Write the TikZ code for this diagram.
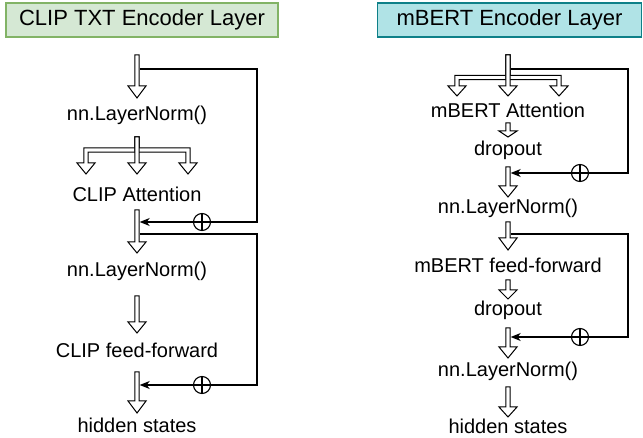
\documentclass[tikz,border=0pt]{standalone}
\usepackage{fontspec}
\setmainfont{Liberation Sans}
\usetikzlibrary{arrows.meta}
\definecolor{gfill}{HTML}{D5E8D4}
\definecolor{gline}{HTML}{82B366}
\definecolor{tfill}{HTML}{B0E3E6}
\definecolor{tline}{HTML}{0E8088}
\tikzset{
 fa/.style={draw=black, fill=white, line width=1pt, line join=miter},
 lbl/.style={font=\fontsize{20}{24}\selectfont, inner sep=0pt, anchor=center},
 ttl/.style={font=\fontsize{22}{26}\selectfont, line width=1.5pt, inner sep=0pt, minimum height=34pt},
 fb/.style={draw=black, line width=1.1pt},
 fbarrow/.style={fb, -{Stealth[length=10pt,width=8pt,inset=3pt]}},
 oplus/.style={circle, draw, line width=1.1pt, minimum size=17pt, inner sep=0pt,
   path picture={\draw[line width=1.1pt] (path picture bounding box.north) -- (path picture bounding box.south)
     (path picture bounding box.west) -- (path picture bounding box.east);}},
}
% straight hollow arrow: x, top, head top, tip
\newcommand\fArrow[4]{\draw[fa] ({#1-2.2},#2) -- ({#1-2.2},#3) -- ({#1-9},#3) -- (#1,#4) -- ({#1+9},#3) -- ({#1+2.2},#3) -- ({#1+2.2},#2) -- cycle;}
% branched hollow arrow: xc, top, band y, xb, head top, tip, side sign
\newcommand\bArrow[7]{\draw[fa] ({#1+#7*2.2},#2) -- ({#1+#7*2.2},{#3-2.2}) -- ({#4+#7*2.2},{#3-2.2}) -- ({#4+#7*2.2},#5) -- ({#4+#7*9},#5) -- (#4,#6) -- ({#4-#7*9},#5) -- ({#4-#7*2.2},#5) -- ({#4-#7*2.2},{#3+2.2}) -- ({#1-#7*2.2},{#3+2.2}) -- ({#1-#7*2.2},#2) -- cycle;}
\begin{document}
\begin{tikzpicture}[x=1pt,y=-1pt]
\useasboundingbox (0,0) rectangle (643,438);
% titles
\node[ttl, fill=gfill, draw=gline, minimum width=272pt] (t1) at (142,20) {CLIP TXT Encoder Layer};
\node[ttl, fill=tfill, draw=tline, minimum width=264pt] (t2) at (509.5,20) {mBERT Encoder Layer};

% ---------- left column ----------
\fArrow{137}{55}{86}{98}
\bArrow{137}{137}{150}{86}{163}{174}{-1}
\bArrow{137}{137}{150}{188}{163}{174}{1}
\fArrow{137}{137}{163}{174}
\fArrow{137}{210}{242}{253}
\fArrow{137}{296}{322}{333}
\fArrow{137}{372}{401}{413}

\node[lbl] (l1) at (137,115) {nn.LayerNorm()};
\node[lbl] (l2) at (137,194) {CLIP Attention};
\node[lbl] (l3) at (137,271) {nn.LayerNorm()};
\node[lbl] (l4) at (137,350) {CLIP feed-forward};
\node[lbl] (l5) at (137,425.5) {hidden states};

\coordinate (la) at (139.7,69);
\coordinate (lb) at (257,69);
\coordinate (lc) at (257,222);
\node[oplus] (p1) at (202,222) {};
\coordinate (ld) at (139.7,222);
\draw[fb] (la) -- (lb) -- (lc) -- (p1);
\draw[fbarrow] (p1) -- (ld);

\coordinate (le) at (139.7,234);
\coordinate (lf) at (257,234);
\coordinate (lg) at (257,385);
\node[oplus] (p2) at (202,385) {};
\coordinate (lh) at (139.7,385);
\draw[fb] (le) -- (lf) -- (lg) -- (p2);
\draw[fbarrow] (p2) -- (lh);

% ---------- right column ----------
\bArrow{508}{55}{77.5}{457}{86}{96}{-1}
\bArrow{508}{55}{77.5}{559}{86}{96}{1}
\fArrow{508}{55}{86}{96}
\fArrow{508}{123}{131}{137}
\fArrow{508}{167}{186}{197}
\fArrow{508}{222}{238}{250}
\fArrow{508}{280}{290}{299}
\fArrow{508}{328}{347}{358}
\fArrow{508}{387}{407}{417}

\node[lbl] (r1) at (508,110) {mBERT Attention};
\node[lbl] (r2) at (508,150) {dropout};
\node[lbl] (r3) at (508,208.5) {nn.LayerNorm()};
\node[lbl] (r4) at (508,265) {mBERT feed-forward};
\node[lbl] (r5) at (508,310) {dropout};
\node[lbl] (r6) at (508,371.5) {nn.LayerNorm()};
\node[lbl] (r7) at (508,426) {hidden states};

\coordinate (ra) at (510.7,69);
\coordinate (rb) at (628,69);
\coordinate (rc) at (628,173);
\node[oplus] (p3) at (580,173) {};
\coordinate (rd) at (510.7,173);
\draw[fb] (ra) -- (rb) -- (rc) -- (p3);
\draw[fbarrow] (p3) -- (rd);

\coordinate (re) at (510.7,234);
\coordinate (rf) at (628,234);
\coordinate (rg) at (628,337);
\node[oplus] (p4) at (580,337) {};
\coordinate (rh) at (510.7,337);
\draw[fb] (re) -- (rf) -- (rg) -- (p4);
\draw[fbarrow] (p4) -- (rh);
\end{tikzpicture}
\end{document}
